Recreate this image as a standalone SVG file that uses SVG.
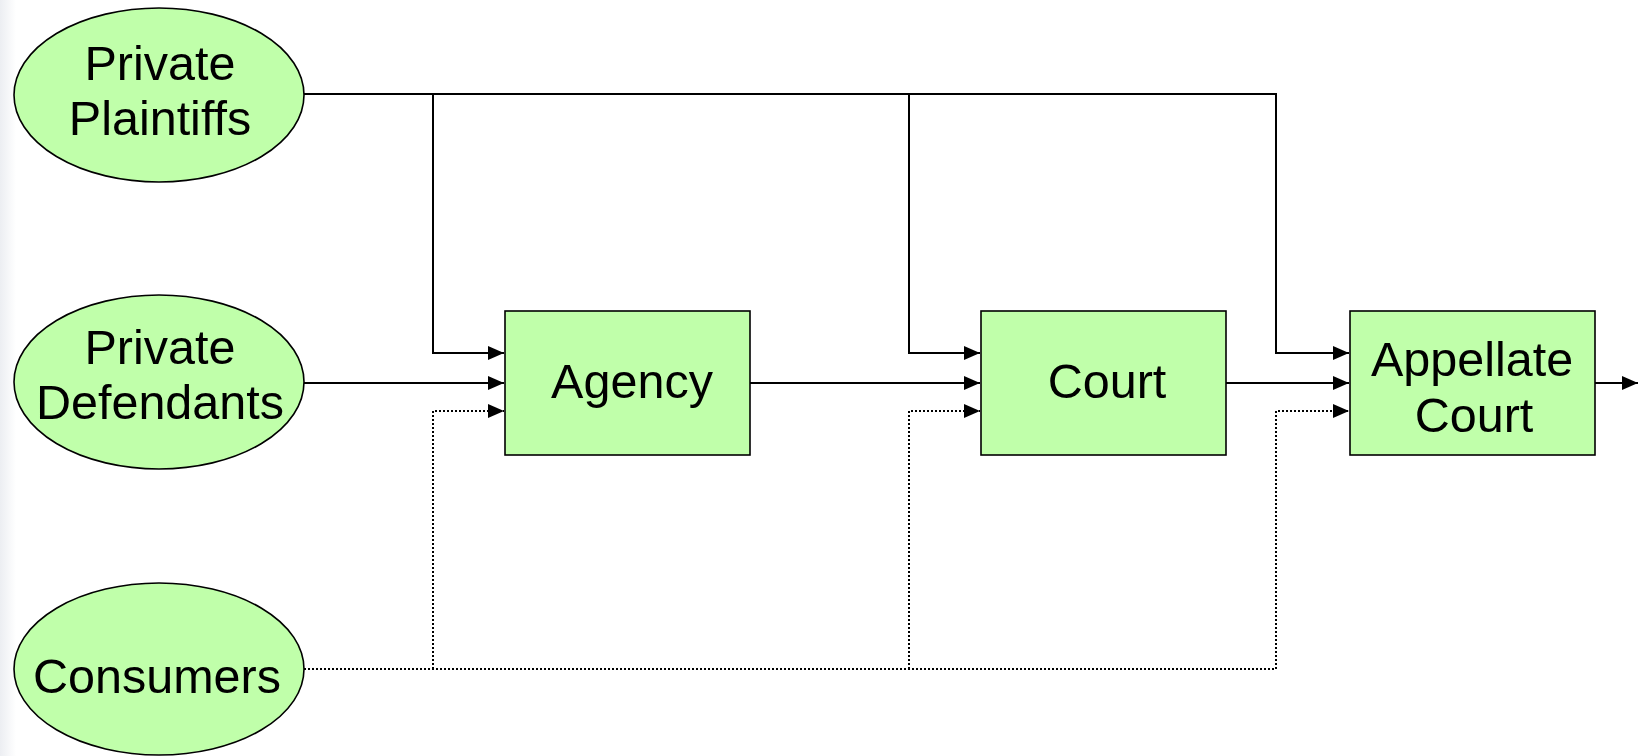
<svg xmlns="http://www.w3.org/2000/svg" width="1643" height="756" viewBox="0 0 1643 756">
  <defs>
    <linearGradient id="edgeShade" x1="0" y1="0" x2="1" y2="0">
      <stop offset="0" stop-color="#eceef2"/>
      <stop offset="1" stop-color="#ffffff"/>
    </linearGradient>
    <marker id="arrow" viewBox="0 0 16 14" refX="16" refY="7" markerWidth="16" markerHeight="14" markerUnits="userSpaceOnUse" orient="auto">
      <path d="M0,0 L16,7 L0,14 Z" fill="#000"/>
    </marker>
  </defs>
  <style>
    .actor { fill: #c0ffaa; stroke: #000; stroke-width: 1.6; }
    .stage { fill: #c0ffaa; stroke: #000; stroke-width: 1.6; }
    .label { font-family: "Liberation Sans", Arial, sans-serif; font-size: 48.5px; fill: #000; text-anchor: middle; }
    .flow { fill: none; stroke: #000; stroke-width: 2; }
    .dotted { fill: none; stroke: #000; stroke-width: 2; stroke-dasharray: 2 2; }
  </style>

  <rect x="0" y="0" width="1643" height="756" fill="#ffffff"/>
  <rect x="0" y="0" width="16" height="756" fill="url(#edgeShade)"/>

  <!-- connectors -->
  <g id="connectors">
    <!-- private plaintiffs feed every stage -->
    <path class="flow" d="M304,94 H1276 V353 H1349" marker-end="url(#arrow)"/>
    <path class="flow" d="M433,94 V353 H504" marker-end="url(#arrow)"/>
    <path class="flow" d="M909,94 V353 H980" marker-end="url(#arrow)"/>
    <!-- main chain -->
    <path class="flow" d="M304,383 H504" marker-end="url(#arrow)"/>
    <path class="flow" d="M750,383 H980" marker-end="url(#arrow)"/>
    <path class="flow" d="M1226,383 H1349" marker-end="url(#arrow)"/>
    <path class="flow" d="M1595,383 H1638" marker-end="url(#arrow)"/>
    <!-- consumers (indirect) -->
    <path class="dotted" d="M304,669 H1276 V411 H1349" marker-end="url(#arrow)"/>
    <path class="dotted" d="M433,669 V411 H504" marker-end="url(#arrow)"/>
    <path class="dotted" d="M909,669 V411 H980" marker-end="url(#arrow)"/>
  </g>

  <g id="private-plaintiffs">
    <ellipse class="actor" cx="159" cy="95" rx="145" ry="87"/>
    <text class="label" x="160" y="80">Private</text>
    <text class="label" x="160" y="135">Plaintiffs</text>
  </g>

  <g id="private-defendants">
    <ellipse class="actor" cx="159" cy="382" rx="145" ry="87"/>
    <text class="label" x="160" y="364">Private</text>
    <text class="label" x="160" y="419">Defendants</text>
  </g>

  <g id="consumers">
    <ellipse class="actor" cx="159" cy="669" rx="145" ry="86"/>
    <text class="label" x="157" y="693">Consumers</text>
  </g>

  <g id="agency">
    <rect class="stage" x="505" y="311" width="245" height="144"/>
    <text class="label" x="632" y="398">Agency</text>
  </g>

  <g id="court">
    <rect class="stage" x="981" y="311" width="245" height="144"/>
    <text class="label" x="1107" y="398">Court</text>
  </g>

  <g id="appellate-court">
    <rect class="stage" x="1350" y="311" width="245" height="144"/>
    <text class="label" x="1472" y="376">Appellate</text>
    <text class="label" x="1474" y="432">Court</text>
  </g>
</svg>
